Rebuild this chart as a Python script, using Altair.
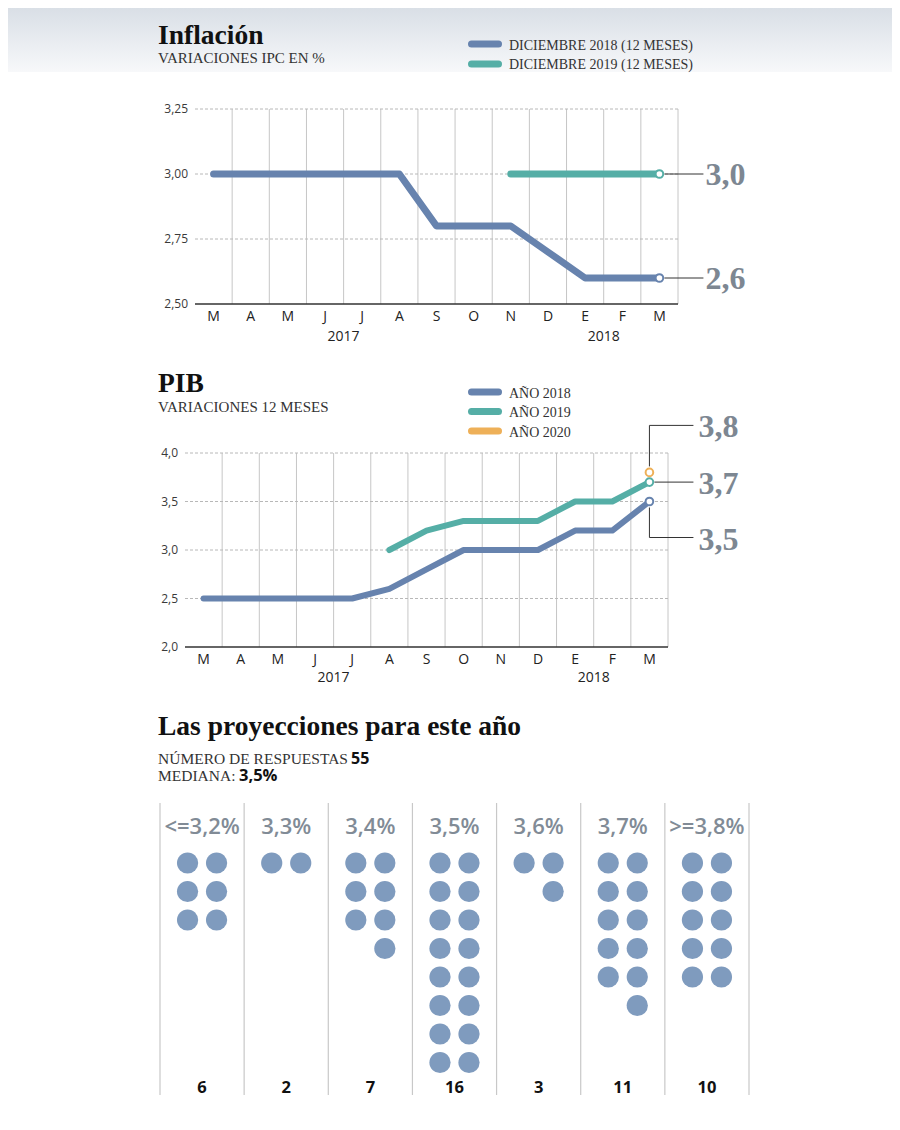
import altair as alt
import pandas as pd

# ---------------- data ----------------
months = ["M", "A", "M", "J", "J", "A", "S", "O", "N", "D", "E", "F", "M"]
year_labels = ["2017", "2018"]
year_at = [3.5, 10.5]

ipc_2018 = [3.0, 3.0, 3.0, 3.0, 3.0, 3.0, 2.8, 2.8, 2.8, 2.7, 2.6, 2.6, 2.6]
ipc_2019 = [None, None, None, None, None, None, None, None, 3.0, 3.0, 3.0, 3.0, 3.0]
ipc_ticks = [2.50, 2.75, 3.00, 3.25]

pib_2018 = [2.5, 2.5, 2.5, 2.5, 2.5, 2.6, 2.8, 3.0, 3.0, 3.0, 3.2, 3.2, 3.5]
pib_2019 = [None, None, None, None, None, 3.0, 3.2, 3.3, 3.3, 3.3, 3.5, 3.5, 3.7]
pib_2020 = [None, None, None, None, None, None, None, None, None, None, None, None, 3.8]
pib_ticks = [2.0, 2.5, 3.0, 3.5, 4.0]

proj_labels = ["<=3,2%", "3,3%", "3,4%", "3,5%", "3,6%", "3,7%", ">=3,8%"]
proj_counts = [6, 2, 7, 16, 3, 11, 10]

# ---------------- style ----------------
BLUE = "#6783ae"
TEAL = "#55aea6"
ORANGE = "#eeb058"
DOT = "#7f9bbe"
BIGGRAY = "#7d8792"
SERIF = "Liberation Serif"
SANS = "Open Sans"
P = 8  # page margin

ipc_x = alt.Scale(domain=[-0.5, 12.5], range=[195 - P, 678 - P], zero=False, nice=False)
ipc_y = alt.Scale(domain=[2.5, 3.25], range=[304 - P, 109 - P], zero=False, nice=False)
pib_x = alt.Scale(domain=[-0.5, 12.5], range=[185 - P, 668 - P], zero=False, nice=False)
pib_y = alt.Scale(domain=[2.0, 4.0], range=[647 - P, 453 - P], zero=False, nice=False)
pr_x = alt.Scale(domain=[-0.5, 6.5], range=[160 - P, 749 - P], zero=False, nice=False)
pr_y = alt.Scale(domain=[0, 10], range=[863 - P, 863 - P + 285], zero=False, nice=False)

one = pd.DataFrame({"k": [0]})
layers = []


def txt(text, x, y, size, font=SERIF, weight="normal", color="#222", align="left", baseline="alphabetic"):
    return alt.Chart(pd.DataFrame({"t": [text]})).mark_text(
        font=font, fontSize=size, fontWeight=weight, color=color, align=align, baseline=baseline
    ).encode(x=alt.value(x), y=alt.value(y), text="t:N")


def legend_line(x0, x1, y, color):
    return alt.Chart(one).mark_rule(color=color, strokeWidth=7, strokeCap="round").encode(
        x=alt.value(x0), x2=alt.value(x1), y=alt.value(y))


def fmt(v, d):
    return f"{v:.{d}f}".replace(".", ",")


# header gradient
layers.append(alt.Chart(one).mark_rect(
    color=alt.Gradient(gradient="linear",
                       stops=[alt.GradientStop(color="#d9dfe6", offset=0),
                              alt.GradientStop(color="#f7f8fa", offset=1)],
                       x1=0, x2=0, y1=0, y2=1)
).encode(x=alt.value(0), x2=alt.value(884), y=alt.value(0), y2=alt.value(64)))


def line_panel(xs, ys, ticks, tick_dec, series, lw, month_dy, year_dy):
    out = []
    lo, hi = ticks[0], ticks[-1]
    edges = pd.DataFrame({"x": [i + 0.5 for i in range(len(months))], "lo": lo, "hi": hi})
    out.append(alt.Chart(edges).mark_rule(color="#c6c6c6", strokeWidth=1).encode(
        x=alt.X("x:Q", scale=xs, axis=None), y=alt.Y("lo:Q", scale=ys, axis=None), y2="hi:Q"))
    grid = pd.DataFrame({"y": ticks[1:], "a": -0.5, "b": len(months) - 0.5})
    out.append(alt.Chart(grid).mark_rule(color="#b8b8b8", strokeWidth=1, strokeDash=[3, 2]).encode(
        x=alt.X("a:Q", scale=xs, axis=None), x2="b:Q", y=alt.Y("y:Q", scale=ys, axis=None)))
    base = pd.DataFrame({"y": [lo], "a": -0.5, "b": len(months) - 0.5})
    out.append(alt.Chart(base).mark_rule(color="#333333", strokeWidth=1.3).encode(
        x=alt.X("a:Q", scale=xs, axis=None), x2="b:Q", y=alt.Y("y:Q", scale=ys, axis=None)))
    tl = pd.DataFrame({"y": ticks, "t": [fmt(t, tick_dec) for t in ticks], "a": -0.5})
    out.append(alt.Chart(tl).mark_text(font=SANS, fontSize=12, color="#3a3a3a", align="right",
                                       baseline="middle", dx=-7).encode(
        x=alt.X("a:Q", scale=xs, axis=None), y=alt.Y("y:Q", scale=ys, axis=None), text="t:N"))
    ml = pd.DataFrame({"i": list(range(len(months))), "m": months, "y": lo})
    out.append(alt.Chart(ml).mark_text(font=SANS, fontSize=14, color="#222", baseline="middle",
                                       dy=month_dy).encode(
        x=alt.X("i:Q", scale=xs, axis=None), y=alt.Y("y:Q", scale=ys, axis=None), text="m:N"))
    yl = pd.DataFrame({"i": year_at, "t": year_labels, "y": lo})
    out.append(alt.Chart(yl).mark_text(font=SANS, fontSize=14, color="#222", baseline="middle",
                                       dy=year_dy).encode(
        x=alt.X("i:Q", scale=xs, axis=None), y=alt.Y("y:Q", scale=ys, axis=None), text="t:N"))
    for vals, color in series:
        df = pd.DataFrame({"i": list(range(len(months))), "v": vals}).dropna()
        if len(df) > 1:
            out.append(alt.Chart(df).mark_line(color=color, strokeWidth=lw, strokeCap="round",
                                               strokeJoin="round").encode(
                x=alt.X("i:Q", scale=xs, axis=None), y=alt.Y("v:Q", scale=ys, axis=None)))
    for vals, color in series:
        df = pd.DataFrame({"i": list(range(len(months))), "v": vals}).dropna().tail(1)
        out.append(alt.Chart(df).mark_point(shape="circle", filled=True, fill="white", stroke=color,
                                            strokeWidth=2, size=58, opacity=1).encode(
            x=alt.X("i:Q", scale=xs, axis=None), y=alt.Y("v:Q", scale=ys, axis=None)))
    return out


# ---------------- Inflación ----------------
layers.append(txt("Inflación", 158 - P, 44 - P, 27.5, weight="bold", color="#111"))
layers.append(txt("VARIACIONES IPC EN %", 158 - P, 63 - P, 15, color="#333"))
layers.append(legend_line(471.5 - P, 498.5 - P, 44 - P, BLUE))
layers.append(legend_line(471.5 - P, 498.5 - P, 64 - P, TEAL))
layers.append(txt("DICIEMBRE 2018 (12 MESES)", 509 - P, 45.5 - P, 14, color="#333", baseline="middle"))
layers.append(txt("DICIEMBRE 2019 (12 MESES)", 509 - P, 65 - P, 14, color="#333", baseline="middle"))

layers += line_panel(ipc_x, ipc_y, ipc_ticks, 2, [(ipc_2018, BLUE), (ipc_2019, TEAL)], 7, 13, 33)

ipc_end = pd.DataFrame({"i": [12, 12], "v": [ipc_2019[-1], ipc_2018[-1]]})
ipc_end["t"] = [fmt(v, 1) for v in ipc_end["v"]]
layers.append(alt.Chart(ipc_end).mark_rule(color="#333", strokeWidth=1, xOffset=5, x2Offset=44).encode(
    x=alt.X("i:Q", scale=ipc_x, axis=None), x2="i:Q", y=alt.Y("v:Q", scale=ipc_y, axis=None)))
layers.append(alt.Chart(ipc_end).mark_text(font=SERIF, fontSize=32, fontWeight="bold", color=BIGGRAY,
                                           align="left", baseline="middle", dx=46, dy=1).encode(
    x=alt.X("i:Q", scale=ipc_x, axis=None), y=alt.Y("v:Q", scale=ipc_y, axis=None), text="t:N"))

# ---------------- PIB ----------------
layers.append(txt("PIB", 158 - P, 392 - P, 27.5, weight="bold", color="#111"))
layers.append(txt("VARIACIONES 12 MESES", 158 - P, 412 - P, 15, color="#333"))
for yy, col, lab in [(392, BLUE, "AÑO 2018"), (411.5, TEAL, "AÑO 2019"), (431, ORANGE, "AÑO 2020")]:
    layers.append(legend_line(471.5 - P, 498.5 - P, yy - P, col))
    layers.append(txt(lab, 509 - P, yy + 1.5 - P, 14, color="#333", baseline="middle"))

layers += line_panel(pib_x, pib_y, pib_ticks, 1,
                     [(pib_2018, BLUE), (pib_2019, TEAL), (pib_2020, ORANGE)], 6, 13, 31)

# connectors for PIB end values
v38, v37, v35 = pib_2020[-1], pib_2019[-1], pib_2018[-1]
conn_v = [(v38, -6, -47), (v35, 6, 36)]
for v, a, b in conn_v:
    d = pd.DataFrame({"i": [12], "v": [v]})
    layers.append(alt.Chart(d).mark_rule(color="#333", strokeWidth=1, yOffset=a, y2Offset=b).encode(
        x=alt.X("i:Q", scale=pib_x, axis=None), y=alt.Y("v:Q", scale=pib_y, axis=None), y2="v:Q"))
for v, off, x0 in [(v38, -47, 0), (v37, 0, 5), (v35, 36, 0)]:
    d = pd.DataFrame({"i": [12], "v": [v], "t": [fmt(v, 1)]})
    layers.append(alt.Chart(d).mark_rule(color="#333", strokeWidth=1, yOffset=off, xOffset=x0,
                                         x2Offset=44).encode(
        x=alt.X("i:Q", scale=pib_x, axis=None), x2="i:Q", y=alt.Y("v:Q", scale=pib_y, axis=None)))
    layers.append(alt.Chart(d).mark_text(font=SERIF, fontSize=32, fontWeight="bold", color=BIGGRAY,
                                         align="left", baseline="middle", dx=49, dy=off + 2).encode(
        x=alt.X("i:Q", scale=pib_x, axis=None), y=alt.Y("v:Q", scale=pib_y, axis=None), text="t:N"))

# ---------------- Proyecciones ----------------
layers.append(txt("Las proyecciones para este año", 158 - P, 735 - P, 27.5, weight="bold", color="#111"))
layers.append(txt("NÚMERO DE RESPUESTAS", 158 - P, 764 - P, 15.5, color="#333"))
layers.append(txt(str(sum(proj_counts)), 351 - P, 764 - P, 16, font=SANS, weight="bold", color="#111"))
layers.append(txt("MEDIANA:", 158 - P, 781 - P, 15.5, color="#333"))
layers.append(txt("3,5%", 239 - P, 781 - P, 16.5, font=SANS, weight="bold", color="#111"))

sep = pd.DataFrame({"x": [i - 0.5 for i in range(len(proj_labels) + 1)]})
layers.append(alt.Chart(sep).mark_rule(color="#c8c8c8", strokeWidth=1.2).encode(
    x=alt.X("x:Q", scale=pr_x, axis=None), y=alt.value(803 - P), y2=alt.value(1095 - P)))

cats = pd.DataFrame({"i": list(range(len(proj_labels))), "lab": proj_labels,
                     "n": [str(c) for c in proj_counts]})
layers.append(alt.Chart(cats).mark_text(font=SANS, fontSize=22, fontWeight=600, color="#818b96",
                                        baseline="alphabetic").encode(
    x=alt.X("i:Q", scale=pr_x, axis=None), y=alt.value(834 - P), text="lab:N"))
layers.append(alt.Chart(cats).mark_text(font=SANS, fontSize=16.5, fontWeight="bold", color="#111",
                                        baseline="alphabetic").encode(
    x=alt.X("i:Q", scale=pr_x, axis=None), y=alt.value(1093 - P), text="n:N"))

left_rows, right_rows = [], []
for ci, c in enumerate(proj_counts):
    for r in range((c + 1) // 2):
        right_rows.append({"i": ci, "r": r})
    for r in range(c // 2):
        left_rows.append({"i": ci, "r": r})
for rows, off in [(left_rows, -14.5), (right_rows, 14.5)]:
    layers.append(alt.Chart(pd.DataFrame(rows)).mark_circle(size=450, color=DOT, opacity=1,
                                                            xOffset=off).encode(
        x=alt.X("i:Q", scale=pr_x, axis=None), y=alt.Y("r:Q", scale=pr_y, axis=None)))

chart = alt.layer(*layers).resolve_scale(x="independent", y="independent").properties(
    width=884, height=1114, padding=0, autosize="none"
).configure(background="white").configure_view(stroke=None)

chart.save("out.html", embed_options={"renderer": "svg", "actions": False})
